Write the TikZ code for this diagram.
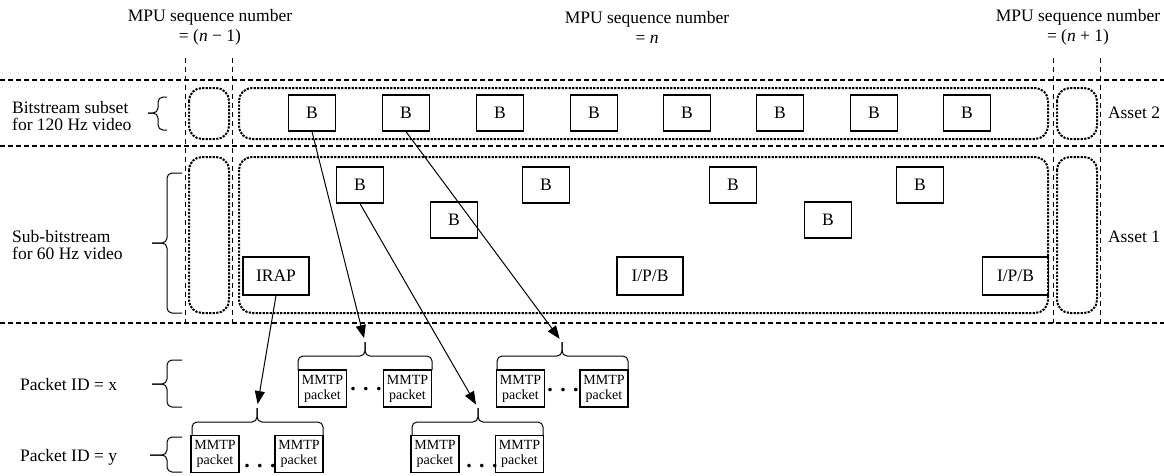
\documentclass[tikz,border=0pt]{standalone}
\usepackage{fontspec}
\setmainfont{Liberation Serif}
\usetikzlibrary{arrows.meta}
\begin{document}
\begin{tikzpicture}[x=1pt,y=-1pt,
 dashline/.style={line width=1.2pt, dash pattern=on 5pt off 3pt},
 vdash/.style={line width=0.9pt, dash pattern=on 5pt off 4pt},
 dotbox/.style={line width=2pt, dash pattern=on 2.2pt off 1.3pt, rounded corners=13pt},
 fbox/.style={draw, line width=1.3pt, inner sep=0pt, font=\fontsize{17.5}{20}\selectfont},
 bbox/.style={fbox, minimum width=47pt, minimum height=36pt},
 ibox/.style={fbox, minimum width=66pt, minimum height=38pt},
 pkt/.style={draw, line width=1.5pt, inner sep=0pt, minimum width=48pt, minimum height=37pt, align=center, font=\fontsize{14}{15}\selectfont},
 lbl/.style={font=\fontsize{17.5}{20}\selectfont, align=center, inner sep=0pt},
 lbll/.style={font=\fontsize{17.5}{17}\selectfont, align=left, inner sep=0pt, anchor=west},
 brc/.style={line width=1pt, rounded corners=5pt},
 arr/.style={line width=1pt, -{Triangle[length=13pt,width=10pt]}, shorten >=4pt},
 dots/.style={font=\fontsize{22}{22}\selectfont\bfseries, inner sep=0pt}
]
\useasboundingbox (0,0) rectangle (1164,475);

% top labels
\node[lbl] (mpu1) at (210,27) {MPU sequence number\\= (\textit{n} − 1)};
\node[lbl] (mpu2) at (647,27) {MPU sequence number\\= \textit{n}};
\node[lbl] (mpu3) at (1078,27) {MPU sequence number\\= (\textit{n} + 1)};

% dashed grid
\draw[dashline] (0,80) -- (1164,80);
\draw[dashline] (0,146) -- (1164,146);
\draw[dashline] (0,323) -- (1164,323);
\draw[vdash] (185,58) -- (185,323);
\draw[vdash] (232,58) -- (232,323);
\draw[vdash] (1053,58) -- (1053,323);
\draw[vdash] (1100,58) -- (1100,323);

% dotted rounded containers
\draw[dotbox] (189,88) rectangle (229,139);
\draw[dotbox] (239,88) rectangle (1048,139);
\draw[dotbox] (1057,88) rectangle (1097,139);
\draw[dotbox] (189,157) rectangle (229,313);
\draw[dotbox] (239,157) rectangle (1048,313);
\draw[dotbox] (1057,157) rectangle (1097,313);

% left labels and braces
\node[lbll] (l120) at (12,116) {Bitstream subset\\for 120 Hz video};
\node[lbll] (l60) at (12,245) {Sub-bitstream\\for 60 Hz video};
\node[lbll] (lx) at (20,385) {Packet ID = x};
\node[lbll] (ly) at (20,457) {Packet ID = y};
\draw[brc] (167,97) -- (158,97) -- (158,113) -- (148,113);
\draw[brc] (167,130) -- (158,130) -- (158,113) -- (148,113);
\draw[brc] (182,173) -- (167,173) -- (167,243) -- (152,243);
\draw[brc] (182,313) -- (167,313) -- (167,243) -- (152,243);
\draw[brc] (182,360) -- (167,360) -- (167,384) -- (152,384);
\draw[brc] (182,407) -- (167,407) -- (167,384) -- (152,384);
\draw[brc] (182,437) -- (167,437) -- (167,455) -- (150,455);
\draw[brc] (182,472) -- (167,472) -- (167,455) -- (150,455);

% right labels
\node[lbl] (as2) at (1134,113) {Asset 2};
\node[lbl] (as1) at (1134,237) {Asset 1};

% Asset 2 B frames
\node[bbox] (a2b1) at (312,113) {B};
\node[bbox] (a2b2) at (406,113) {B};
\node[bbox] (a2b3) at (500,113) {B};
\node[bbox] (a2b4) at (594,113) {B};
\node[bbox] (a2b5) at (687,113) {B};
\node[bbox] (a2b6) at (780,113) {B};
\node[bbox] (a2b7) at (874,113) {B};
\node[bbox] (a2b8) at (967,113) {B};

% Asset 1 frames
\node[bbox] (a1b1) at (360,185) {B};
\node[bbox] (a1b2) at (454,220) {B};
\node[bbox] (a1b3) at (546,185) {B};
\node[bbox] (a1b4) at (733,185) {B};
\node[bbox] (a1b5) at (828,220) {B};
\node[bbox] (a1b6) at (920,185) {B};
\node[ibox] (irap) at (276,276) {IRAP};
\node[ibox] (ipb1) at (650,276) {I/P/B};
\node[ibox] (ipb2) at (1015.5,276) {I/P/B};

% packet groups
\node[pkt] (x1a) at (322.5,388.5) {MMTP\\packet};
\node[pkt] (x1b) at (407.5,388.5) {MMTP\\packet};
\node[pkt] (x2a) at (520.5,388.5) {MMTP\\packet};
\node[pkt] (x2b) at (604,388.5) {MMTP\\packet};
\node[pkt] (y1a) at (215,454) {MMTP\\packet};
\node[pkt] (y1b) at (299,454) {MMTP\\packet};
\node[pkt] (y2a) at (435,454) {MMTP\\packet};
\node[pkt] (y2b) at (519.5,454) {MMTP\\packet};
\node[dots] (dx1) at (366,389) {. . .};
\node[dots] (dx2) at (563,390) {. . .};
\node[dots] (dy1) at (260,466) {. . .};
\node[dots] (dy2) at (482,466) {. . .};

% group braces
\coordinate (x1tip) at (365,342);
\coordinate (x2tip) at (562,342);
\coordinate (y1tip) at (257,408);
\coordinate (y2tip) at (478,408);
\draw[brc] (298,370) -- (298,356) -- (365,356) -- (x1tip);
\draw[brc] (432,370) -- (432,356) -- (365,356) -- (x1tip);
\draw[brc] (497,370) -- (497,356) -- (562,356) -- (x2tip);
\draw[brc] (628,370) -- (628,356) -- (562,356) -- (x2tip);
\draw[brc] (192,435) -- (192,422) -- (257,422) -- (y1tip);
\draw[brc] (323,435) -- (323,422) -- (257,422) -- (y1tip);
\draw[brc] (412,435) -- (412,422) -- (478,422) -- (y2tip);
\draw[brc] (543,435) -- (543,422) -- (478,422) -- (y2tip);

% arrows
\draw[arr] (a2b1.south) -- (x1tip);
\draw[arr] (a2b2.south) -- (x2tip);
\draw[arr] (irap.south) -- (y1tip);
\draw[arr] (a1b1.south) -- (y2tip);
\end{tikzpicture}
\end{document}
